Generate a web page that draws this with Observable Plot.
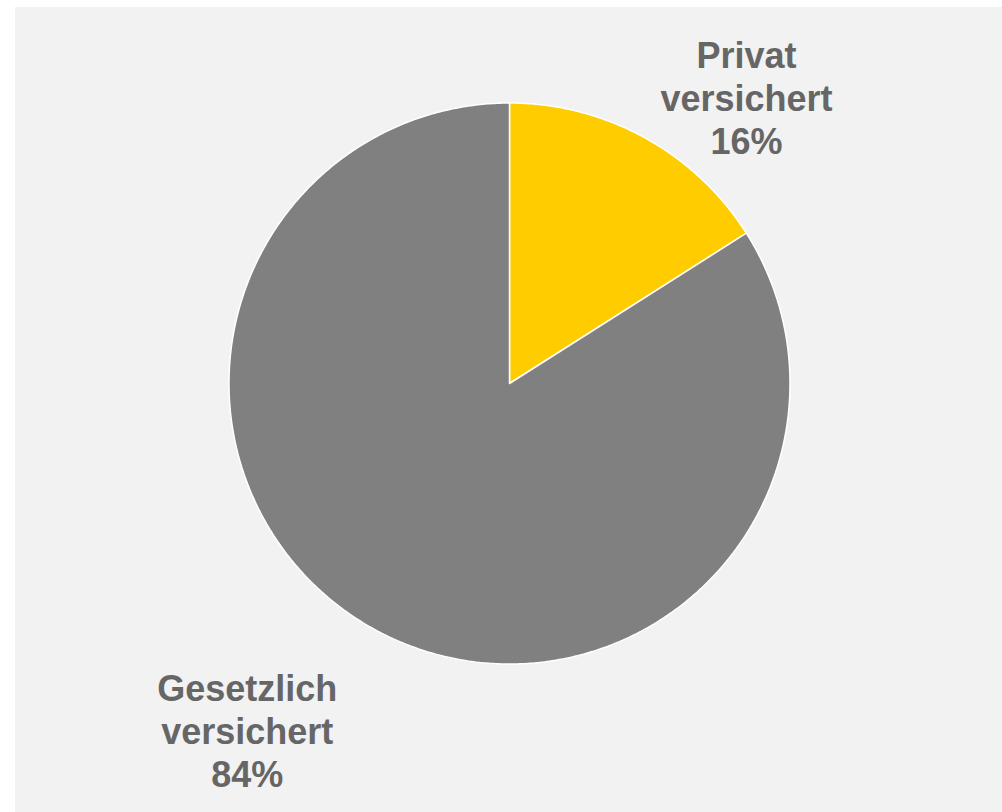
<!DOCTYPE html>
<html>
<head>
<meta charset="utf-8">
<script src="https://cdn.jsdelivr.net/npm/d3@7"></script>
<script src="https://cdn.jsdelivr.net/npm/@observablehq/plot@0.6"></script>
<style>
  html, body { margin: 0; padding: 0; background: #ffffff; }
  #chart { position: absolute; left: 15px; top: 7px; width: 987px; height: 805px; background: #f2f2f2; overflow: hidden; }
  #chart svg { display: block; }
</style>
</head>
<body>
<div id="chart"></div>
<script>
// Data
const categories = ["Privat versichert", "Gesetzlich versichert"];
const values = [16, 84];
const colors = ["#ffcc00", "#808080"];
const labelLines = [["Privat", "versichert", "16%"], ["Gesetzlich", "versichert", "84%"]];
// label anchor positions in pie units (radius = 1)
const labelX = [0.845, -0.935];
const labelY = [1.021, -1.236];

// Build slice outlines from d3.pie angles (clockwise from 12 o'clock)
const arcs = d3.pie().sort(null)(values);
const pts = [];
arcs.forEach((a, i) => {
  const cat = categories[i];
  pts.push({cat, x: 0, y: 0});
  const n = Math.max(2, Math.ceil((a.endAngle - a.startAngle) / (Math.PI / 360)));
  for (let k = 0; k <= n; k++) {
    const t = a.startAngle + (a.endAngle - a.startAngle) * k / n;
    pts.push({cat, x: Math.sin(t), y: Math.cos(t)});
  }
  pts.push({cat, x: 0, y: 0});
});

const labels = categories.map((c, i) => ({
  cat: c,
  text: labelLines[i].join("\n"),
  x: labelX[i],
  y: labelY[i]
}));

const R = 280.5;
const W = 987, H = 805;
const cx = 494, cy = 376;

const chart = Plot.plot({
  width: W,
  height: H,
  marginLeft: cx - R,
  marginRight: W - cx - R,
  marginTop: cy - R,
  marginBottom: H - cy - R,
  style: {background: "transparent", overflow: "visible"},
  x: {domain: [-1, 1], axis: null},
  y: {domain: [-1, 1], axis: null},
  color: {domain: categories, range: colors},
  marks: [
    Plot.line(pts, {
      x: "x", y: "y", z: "cat",
      fill: "cat",
      stroke: "#ffffff",
      strokeWidth: 1.5,
      strokeLinejoin: "miter",
      curve: "linear"
    }),
    Plot.text(labels, {
      x: "x", y: "y", text: "text",
      fill: "#666666",
      fontSize: 36,
      fontWeight: "bold",
      fontFamily: "Liberation Sans, Arial, sans-serif",
      lineHeight: 1.2,
      textAnchor: "middle"
    })
  ]
});
document.getElementById("chart").appendChild(chart);
</script>
</body>
</html>
